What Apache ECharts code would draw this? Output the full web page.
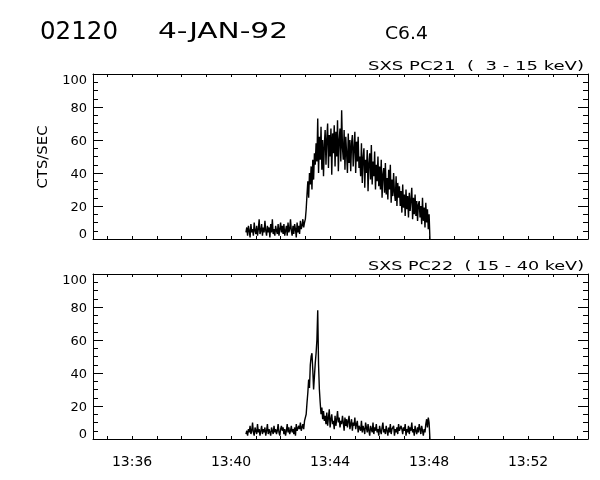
<!DOCTYPE html>
<html><head><meta charset="utf-8">
<script src="https://cdn.jsdelivr.net/npm/echarts@6/dist/echarts.min.js"></script>
<style>html,body{margin:0;padding:0;background:#fff}#c{width:600px;height:480px}</style>
</head><body><div id="c"></div>
<script>
// ---- text ----
const titleId = '02120';
const titleDate = '4-JAN-92';
const titleClass = 'C6.4';
const panelLabels = ['SXS PC21  (  3 - 15 keV)', 'SXS PC22  ( 15 - 40 keV)'];
const yTitle = 'CTS/SEC';
// ---- axes (minutes after 13:00) ----
const hourLabel = '13';
const xRange = [34.42, 54.42];
const xTickMinutes = [35,36,37,38,39,40,41,42,43,44,45,46,47,48,49,50,51,52,53,54];
const xLabelMinutes = [36,40,44,48,52];
// ---- samples: first sample 13:40:36, one every 2 s ----
const sampleStartMin = 40.6;
const sampleStepSec = 2;
const pc21 = [
  4,7,2,8,5,1,9,4,6,2, 10,5,3,8,2,6,12,3,5,9, 2,7,4,11,5,2,8,4,7,1, 9,4,12,3,6,2,8,5,3,9,
  2,6,10,4,8,3,9,2, 5,8,2,10,4,6,12,5,2,8, 3,9,6,1,10,4,8,3,11,6, 8,12,7,10,
  12,18,27,35,25,40,33,
  44,30,48,36,52,45,58,47,73,
  40,62,48,68,42,60,38,57,66,45, 61,70,43,63,50,67,39,64,52,69, 44,65,50,72,41,60,67,47,78,55,
  48,66,42,62,52,40,64,46,60,41, 58,63,44,55,65,40,59,47,62,43,
  50,38,58,34,49,55,31,48,40,54, 29,46,52,36,57,33,47,38,53,30, 45,35,50,32,
  44,30,48,25,39,43,28,46,27,37, 24,42,30,45,22,36,26,40,28,23, 38,20,34,25,
  32,20,29,16,33,19,27,14,30,18, 26,13,28,17,24,31,12,25,15,27, 14,23,11,21,
  23,13,20,9,25,11,19,7,22,10,18,6,15,
  0];
const pc22 = [
  3,5,2,6,4,8,3,5,10,4, 2,7,5,3,9,4,6,2,5,8, 3,6,4,7,2,5,9,3,6,4, 2,7,5,3,8,4,6,3,5,9,
  4,2,6,8,5,7,3,6, 2,5,9,4,7,3,5,8,4,6, 3,7,2,9,5,4,8,6,10,5, 7,9,6,11,
  10,15,22,28,36,31,45,
  50,52,42,30,38,46,52,60,78,
  45,30,22,15,19,12,17,11,
  14,9,16,8,13,18,7,12,15,9, 11,6,14,8,12,17,10,13,7,11, 9,14,
  10,5,13,8,12,7,11,14,6,9, 12,5,10,8,13,6,9,11,4,8,
  9,5,11,4,8,6,3,10,7,4, 9,5,2,8,6,4,10,3,7,5, 9,4,6,2,8,5,3,7,10,4, 6,3,8,5,2,7,4,9,3,6,
  5,8,2,6,4,7,3,9,5,4, 8,6,3,7,5,9,2,6,4,8, 3,7,5,10,4,6,2,8,5,3, 7,4,9,6,3,8,5,2,6,4,
  9,12,7,13,10,
  0];

const FONT = '"DejaVu Sans", sans-serif';
const mctx = document.createElement('canvas').getContext('2d');
function stretch(text, size, target) {
  mctx.font = size + 'px "DejaVu Sans"';
  return target / mctx.measureText(text).width;
}
function toPairs(arr) { return arr.map((v, i) => [sampleStartMin + i * sampleStepSec / 60, v]); }

const black = '#000';
function xAx(grid, pos, labels) {
  return {
    type: 'value', gridIndex: grid, position: pos, min: xRange[0], max: xRange[1],
    axisLine: { show: true, onZero: false, lineStyle: { color: black, width: 1 } },
    axisTick: { show: true, inside: true, length: 3, customValues: xTickMinutes, lineStyle: { color: black, width: 1 } },
    axisLabel: { show: labels, customValues: xLabelMinutes, color: black, fontFamily: FONT, fontSize: 14, margin: 16,
      formatter: v => hourLabel + ':' + String(Math.round(v)).padStart(2, '0') },
    splitLine: { show: false }
  };
}
function yAx(grid, pos, labels) {
  return {
    type: 'value', gridIndex: grid, position: pos, min: 0, max: 100, interval: 20,
    axisLine: { show: true, onZero: false, lineStyle: { color: black, width: 1 } },
    axisTick: { show: true, inside: true, length: 10, lineStyle: { color: black, width: 1 } },
    minorTick: { show: true, splitNumber: 4, length: 5, lineStyle: { color: black, width: 1 } },
    axisLabel: { show: labels, margin: 6, color: black, fontFamily: FONT, fontSize: 13,
      formatter: v => v === 0 ? '{b|0}' : (v === 100 ? '{t|100}' : '{n|' + v + '}'),
      rich: {
        b: { fontFamily: FONT, fontSize: 13, color: black, padding: [0, 0, 9, 0] },
        t: { fontFamily: FONT, fontSize: 13, color: black, padding: [13, 0, 0, 0] },
        n: { fontFamily: FONT, fontSize: 13, color: black, padding: [3, 0, 0, 0] }
      } },
    splitLine: { show: false }
  };
}
function txt(text, x, y, size, target, align, rot) {
  return { type: 'text', x: x, y: y, rotation: rot || 0, scaleX: target ? stretch(text, size, target) : 1,
    style: { text: text, font: size + 'px "DejaVu Sans"', fill: black, align: align, verticalAlign: 'middle' } };
}

const chart = echarts.init(document.getElementById('c'), null, { renderer: 'canvas' });
chart.setOption({
  animation: false,
  backgroundColor: '#fff',
  grid: [
    { left: 93, top: 74, width: 495, height: 165 },
    { left: 93, top: 274, width: 495, height: 165 }
  ],
  xAxis: [xAx(0, 'bottom', false), xAx(0, 'top', false), xAx(1, 'bottom', true), xAx(1, 'top', false)],
  yAxis: [yAx(0, 'left', true), yAx(0, 'right', false), yAx(1, 'left', true), yAx(1, 'right', false)],
  series: [
    { type: 'line', name: panelLabels[0], xAxisIndex: 0, yAxisIndex: 0, data: toPairs(pc21), symbol: 'none',
      lineStyle: { color: black, width: 1.4 } },
    { type: 'line', name: panelLabels[1], xAxisIndex: 2, yAxisIndex: 2, data: toPairs(pc22), symbol: 'none',
      lineStyle: { color: black, width: 1.4 } }
  ],
  graphic: [
    txt(titleId, 40, 32, 25, 78, 'left'),
    txt(titleDate, 158, 32, 22, 130, 'left'),
    txt(titleClass, 385, 34, 18, 43, 'left'),
    txt(panelLabels[0], 584, 67, 13, 216, 'right'),
    txt(panelLabels[1], 584, 267, 13, 216, 'right'),
    txt(yTitle, 43, 157, 14, 63, 'center', Math.PI / 2)
  ]
});
</script>
</body></html>
